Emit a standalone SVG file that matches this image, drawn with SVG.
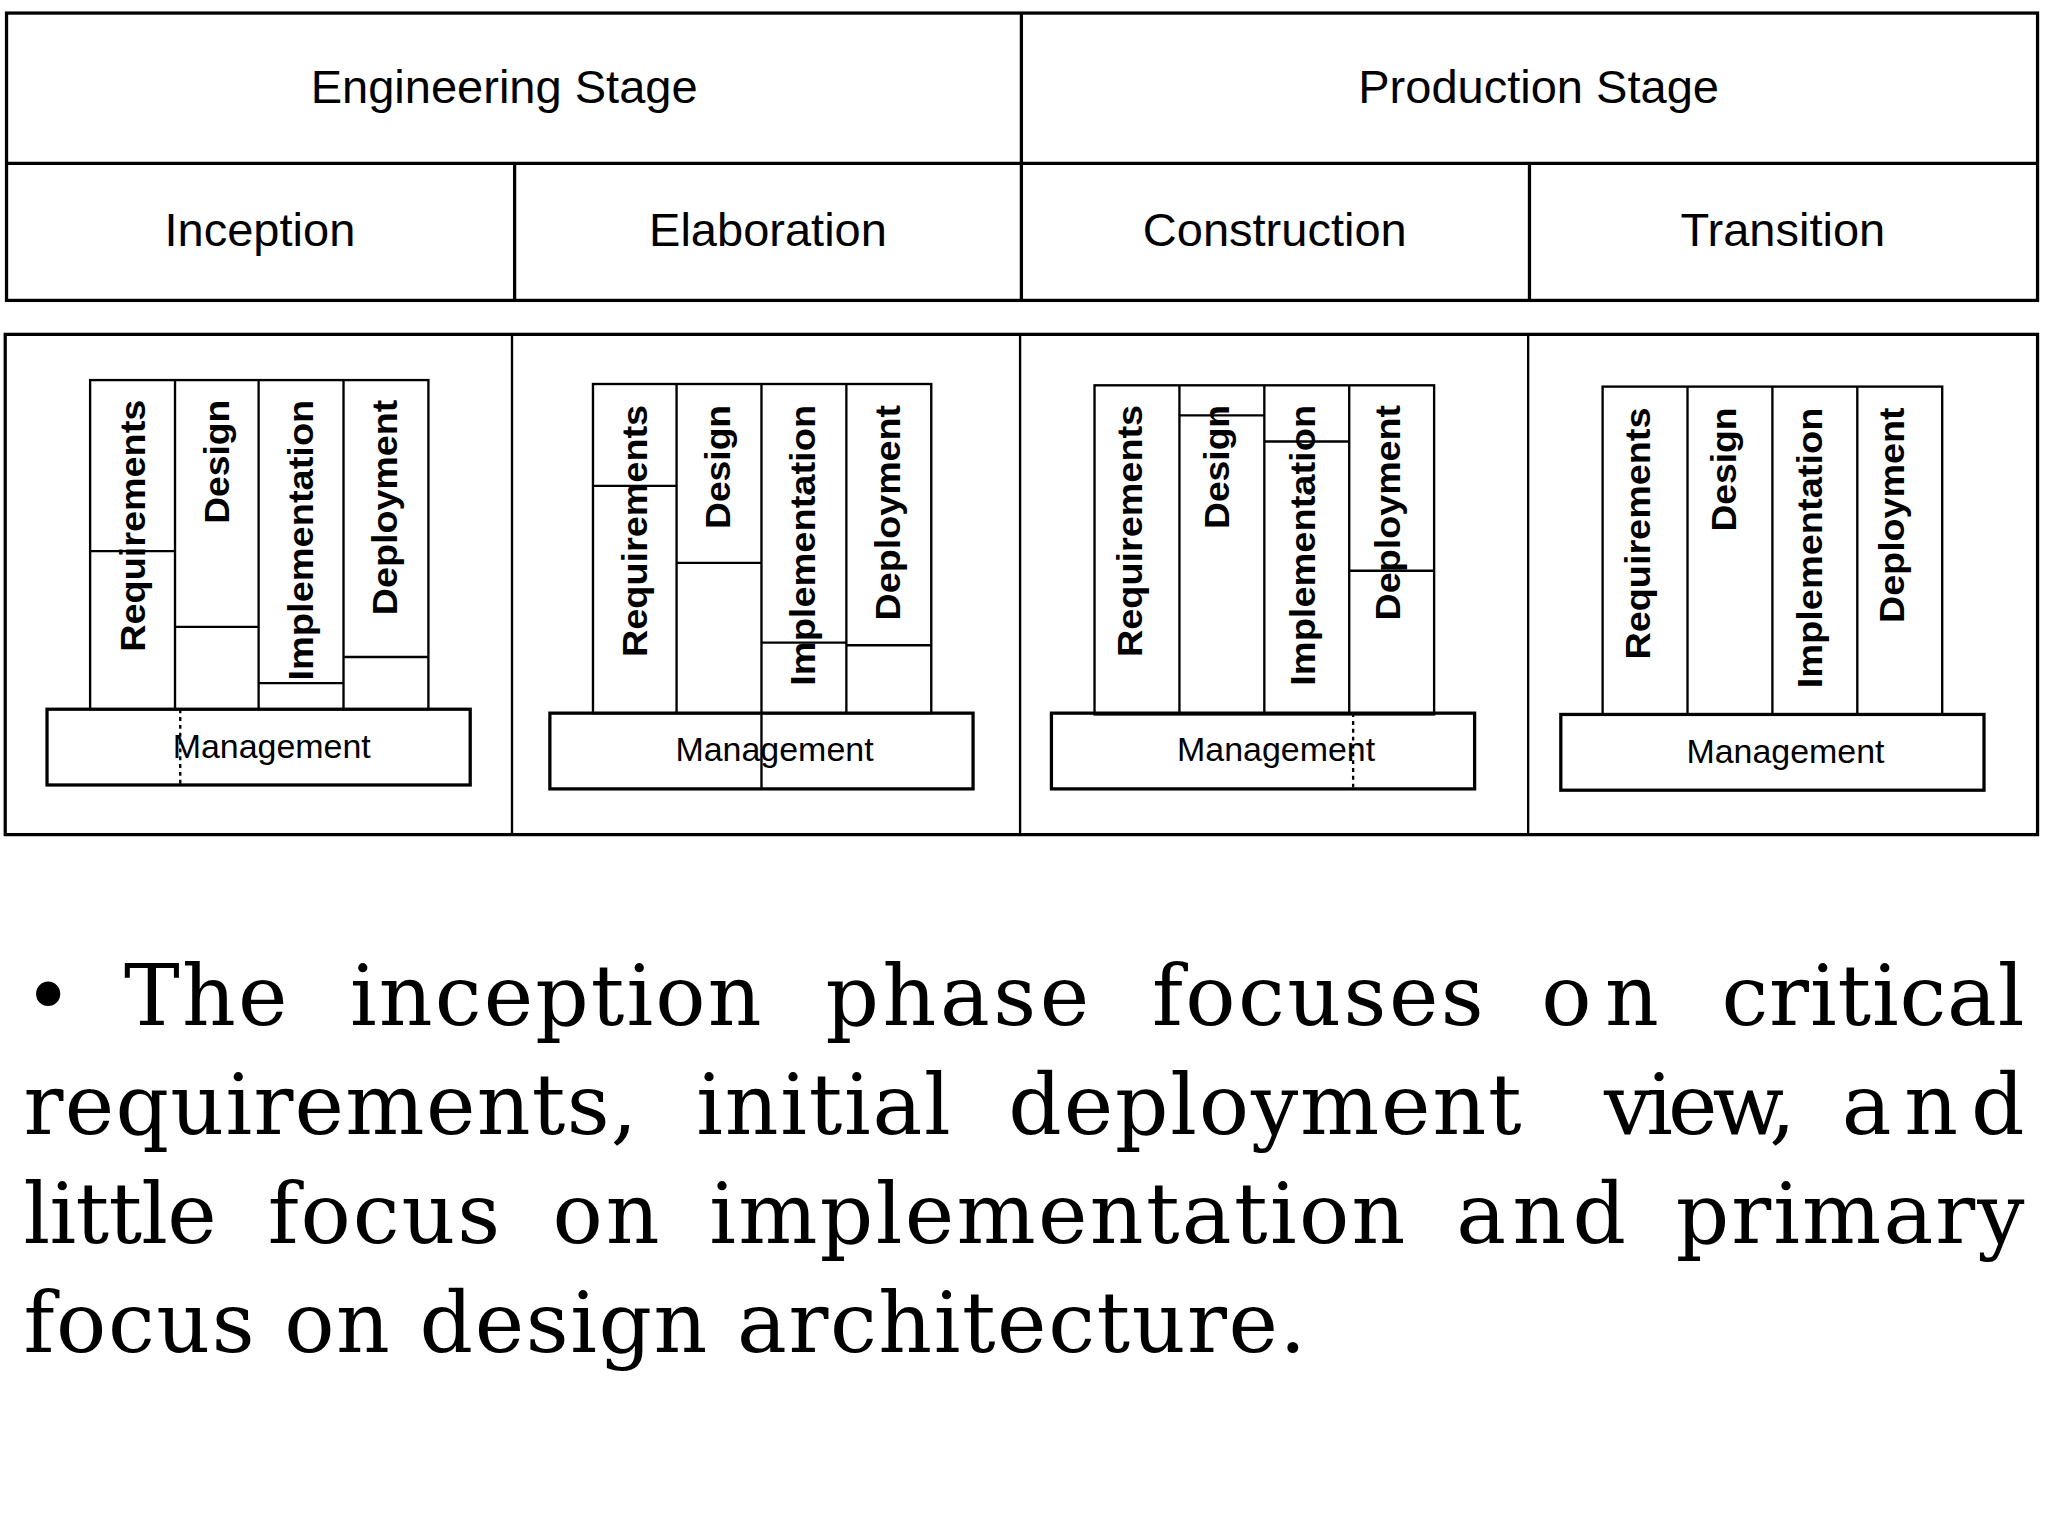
<svg xmlns="http://www.w3.org/2000/svg" width="2048" height="1536" viewBox="0 0 2048 1536">
<style>
.b{fill:none;stroke:#000;stroke-width:2.5}
.t{stroke:#000;stroke-width:1.8;fill:none}
.h{font-family:"Liberation Sans",Arial,sans-serif;font-size:36px;text-anchor:middle}
.v{font-family:"Liberation Sans",Arial,sans-serif;font-size:27px;font-weight:bold;text-anchor:end}
.m{font-family:"Liberation Sans",Arial,sans-serif;font-size:26px;text-anchor:middle}
.p{font-family:"DejaVu Serif","Liberation Serif",serif;font-size:64px}
</style>
<rect width="2048" height="1536" fill="#fff"/>
<g transform="scale(1.306122)">
<g id="header">
<rect class="b" x="5" y="10" width="1555" height="220"/>
<line class="b" x1="5" y1="125" x2="1560" y2="125"/>
<line class="b" x1="782" y1="10" x2="782" y2="230"/>
<line class="b" x1="394" y1="125" x2="394" y2="230"/>
<line class="b" x1="1171" y1="125" x2="1171" y2="230"/>
<text class="h" x="386" y="79">Engineering Stage</text>
<text class="h" x="1178" y="79">Production Stage</text>
<text class="h" x="199" y="188">Inception</text>
<text class="h" x="588" y="188">Elaboration</text>
<text class="h" x="976" y="188">Construction</text>
<text class="h" x="1365" y="188">Transition</text>
</g>
<g id="panels">
<rect class="b" x="4" y="256" width="1556" height="383"/>
<line class="t" x1="392" y1="256" x2="392" y2="639"/>
<line class="t" x1="781" y1="256" x2="781" y2="639"/>
<line class="t" x1="1170" y1="256" x2="1170" y2="639"/>
</g>
<g id="p1">
<rect class="t" x="69" y="291" width="259" height="252"/>
<line class="t" x1="134" y1="291" x2="134" y2="543"/><line class="t" x1="198" y1="291" x2="198" y2="543"/><line class="t" x1="263" y1="291" x2="263" y2="543"/>
<line class="t" x1="69" y1="422" x2="134" y2="422"/><line class="t" x1="134" y1="480" x2="198" y2="480"/><line class="t" x1="198" y1="523" x2="263" y2="523"/><line class="t" x1="263" y1="503" x2="328" y2="503"/>
<rect class="b" x="36" y="543" width="324" height="58"/>
<line class="t" x1="138" y1="543" x2="138" y2="601" stroke-dasharray="3 3"/>
<text class="v" transform="translate(111,306) rotate(-90)" textLength="193" lengthAdjust="spacingAndGlyphs">Requirements</text>
<text class="v" transform="translate(175,306) rotate(-90)" textLength="95" lengthAdjust="spacingAndGlyphs">Design</text>
<text class="v" transform="translate(240,306) rotate(-90)" textLength="215" lengthAdjust="spacingAndGlyphs">Implementation</text>
<text class="v" transform="translate(304,306) rotate(-90)" textLength="165" lengthAdjust="spacingAndGlyphs">Deployment</text>
<text class="m" x="208" y="580">Management</text>
</g>
<g id="p2">
<rect class="t" x="454" y="294" width="259" height="252"/>
<line class="t" x1="518" y1="294" x2="518" y2="546"/><line class="t" x1="583" y1="294" x2="583" y2="546"/><line class="t" x1="648" y1="294" x2="648" y2="546"/>
<line class="t" x1="454" y1="372" x2="518" y2="372"/><line class="t" x1="518" y1="431" x2="583" y2="431"/><line class="t" x1="583" y1="492" x2="648" y2="492"/><line class="t" x1="648" y1="494" x2="713" y2="494"/>
<rect class="b" x="421" y="546" width="324" height="58"/>
<line class="t" x1="583" y1="546" x2="583" y2="604"/>
<text class="v" transform="translate(495,310) rotate(-90)" textLength="193" lengthAdjust="spacingAndGlyphs">Requirements</text>
<text class="v" transform="translate(559,310) rotate(-90)" textLength="95" lengthAdjust="spacingAndGlyphs">Design</text>
<text class="v" transform="translate(624,310) rotate(-90)" textLength="215" lengthAdjust="spacingAndGlyphs">Implementation</text>
<text class="v" transform="translate(689,310) rotate(-90)" textLength="165" lengthAdjust="spacingAndGlyphs">Deployment</text>
<text class="m" x="593" y="583">Management</text>
</g>
<g id="p3">
<rect class="t" x="838" y="295" width="260" height="252"/>
<line class="t" x1="903" y1="295" x2="903" y2="547"/><line class="t" x1="968" y1="295" x2="968" y2="547"/><line class="t" x1="1033" y1="295" x2="1033" y2="547"/>
<line class="t" x1="903" y1="318" x2="968" y2="318"/><line class="t" x1="968" y1="338" x2="1033" y2="338"/><line class="t" x1="1033" y1="437" x2="1098" y2="437"/>
<rect class="b" x="805" y="546" width="324" height="58"/>
<line class="t" x1="1036" y1="546" x2="1036" y2="604" stroke-dasharray="3 3"/>
<text class="v" transform="translate(874,310) rotate(-90)" textLength="193" lengthAdjust="spacingAndGlyphs">Requirements</text>
<text class="v" transform="translate(941,310) rotate(-90)" textLength="95" lengthAdjust="spacingAndGlyphs">Design</text>
<text class="v" transform="translate(1007,310) rotate(-90)" textLength="215" lengthAdjust="spacingAndGlyphs">Implementation</text>
<text class="v" transform="translate(1072,310) rotate(-90)" textLength="165" lengthAdjust="spacingAndGlyphs">Deployment</text>
<text class="m" x="977" y="583">Management</text>
</g>
<g id="p4">
<rect class="t" x="1227" y="296" width="260" height="251"/>
<line class="t" x1="1292" y1="296" x2="1292" y2="547"/><line class="t" x1="1357" y1="296" x2="1357" y2="547"/><line class="t" x1="1422" y1="296" x2="1422" y2="547"/>
<rect class="b" x="1195" y="547" width="324" height="58"/>
<text class="v" transform="translate(1263,312) rotate(-90)" textLength="193" lengthAdjust="spacingAndGlyphs">Requirements</text>
<text class="v" transform="translate(1329,312) rotate(-90)" textLength="95" lengthAdjust="spacingAndGlyphs">Design</text>
<text class="v" transform="translate(1395,312) rotate(-90)" textLength="215" lengthAdjust="spacingAndGlyphs">Implementation</text>
<text class="v" transform="translate(1458,312) rotate(-90)" textLength="165" lengthAdjust="spacingAndGlyphs">Deployment</text>
<text class="m" x="1367" y="584">Management</text>
</g>
<g id="paragraph" class="p">
<text x="18" y="785">•</text><text x="95" y="785" textLength="125">The</text><text x="268" y="785" textLength="315">inception</text><text x="632" y="785" textLength="202">phase</text><text x="882" y="785" textLength="254">focuses</text><text x="1180" y="785" textLength="90">on</text><text x="1318" y="785" textLength="232">critical</text>
<text x="18" y="868" textLength="470">requirements,</text><text x="533" y="868" textLength="195">initial</text><text x="772" y="868" textLength="393">deployment</text><text x="1228" y="868" textLength="147">view,</text><text x="1410" y="868" textLength="140">and</text>
<text x="18" y="952" textLength="148">little</text><text x="205" y="952" textLength="178">focus</text><text x="423" y="952" textLength="82">on</text><text x="543" y="952" textLength="533">implementation</text><text x="1115" y="952" textLength="130">and</text><text x="1283" y="952" textLength="267">primary</text>
<text x="18" y="1035" textLength="982">focus on design architecture.</text>
</g>
</g>
</svg>
